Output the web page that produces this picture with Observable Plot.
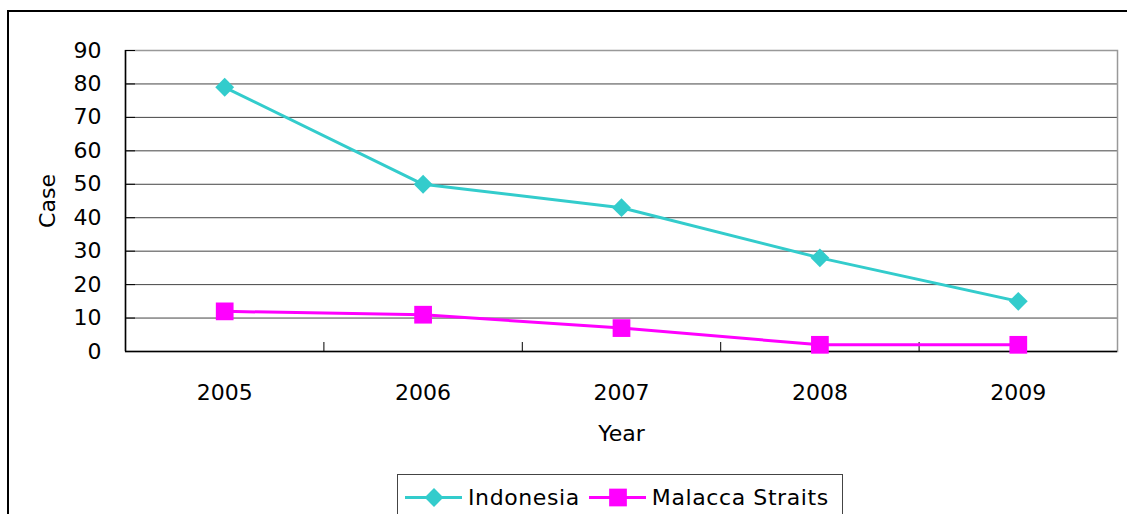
<!DOCTYPE html>
<html>
<head>
<meta charset="utf-8">
<script src="https://cdn.jsdelivr.net/npm/d3@7"></script>
<script src="https://cdn.jsdelivr.net/npm/@observablehq/plot@0.6"></script>
<style>
  html, body { margin: 0; padding: 0; background: #fff; overflow: hidden; width: 1127px; height: 514px; }
  #wrap { position: relative; width: 1127px; height: 514px; overflow: hidden; font-family: "DejaVu Sans", sans-serif; }
  #border { position: absolute; left: 7px; top: 10px; width: 1300px; height: 700px; border: 2px solid #000; box-sizing: border-box; }
  #chart { position: absolute; left: 0; top: 0; }
  #legend { position: absolute; left: 397px; top: 474px; width: 446px; height: 80px; border: 1px solid #444; box-sizing: border-box; background: #fff;
            display: flex; align-items: flex-start; padding-top: 9px; padding-left: 7px; font-size: 22px; color: #000; letter-spacing: 0.6px; }
  .item { display: flex; align-items: center; margin-right: 9px; }
  .item svg { margin-right: 6px; }
</style>
</head>
<body>
<div id="wrap">
  <div id="border"></div>
  <div id="chart"></div>
  <div id="legend"></div>
</div>
<script>
const years = [2005, 2006, 2007, 2008, 2009];
const indonesia = [79, 50, 43, 28, 15];
const malacca = [12, 11, 7, 2, 2];
const yTicks = [0, 10, 20, 30, 40, 50, 60, 70, 80, 90];
const seriesNames = ["Indonesia", "Malacca Straits"];
const seriesColors = ["#33CCCC", "#FF00FF"];
const seriesSymbols = ["diamond2", "square"];

const indData = years.map((y, i) => ({year: y, value: indonesia[i]}));
const malData = years.map((y, i) => ({year: y, value: malacca[i]}));
const boundaries = years.slice(0, -1).map(y => y + 0.5);
const font = "DejaVu Sans, sans-serif";

const chart = Plot.plot({
  width: 1127,
  height: 470,
  marginLeft: 125,
  marginRight: 10,
  marginTop: 50,
  marginBottom: 119,
  style: {fontFamily: font, fontSize: "22px", color: "#000", background: "transparent"},
  x: {domain: [years[0] - 0.5, years[years.length - 1] + 0.5], axis: null},
  y: {domain: [0, 90], axis: null},
  marks: [
    Plot.gridY(yTicks.slice(1), {stroke: "#444", strokeOpacity: 1, strokeWidth: 1}),
    Plot.frame({stroke: "#999", strokeWidth: 1.5}),
    Plot.axisY(yTicks, {tickSize: 0, tickPadding: 24, fontSize: 22, fill: "#000", label: null}),
    Plot.axisY(yTicks, {tickSize: -10, tickFormat: () => "", stroke: "#000", label: null}),
    Plot.axisX(boundaries, {tickSize: -9, tickFormat: () => "", stroke: "#000", label: null}),
    Plot.axisX(years, {tickSize: 0, tickPadding: 33, tickFormat: d => String(d), fontSize: 22, fill: "#000", label: null}),
    Plot.ruleX([years[0] - 0.5], {stroke: "#000", strokeWidth: 1.5}),
    Plot.ruleY([0], {stroke: "#000", strokeWidth: 1.5}),
    Plot.text(["Case"], {frameAnchor: "left", dx: -78, rotate: -90, textAnchor: "middle", lineAnchor: "middle", fontSize: 22, fill: "#000"}),
    Plot.text(["Year"], {frameAnchor: "bottom", dy: 82, textAnchor: "middle", lineAnchor: "middle", fontSize: 22, fill: "#000"}),
    Plot.line(indData, {x: "year", y: "value", stroke: seriesColors[0], strokeWidth: 3}),
    Plot.line(malData, {x: "year", y: "value", stroke: seriesColors[1], strokeWidth: 3}),
    Plot.dot(indData, {x: "year", y: "value", symbol: seriesSymbols[0], fill: seriesColors[0], r: 8.5}),
    Plot.dot(malData, {x: "year", y: "value", symbol: seriesSymbols[1], fill: seriesColors[1], r: 10})
  ]
});
document.getElementById("chart").appendChild(chart);

const legend = document.getElementById("legend");
seriesNames.forEach((name, i) => {
  const item = document.createElement("div");
  item.className = "item";
  const sw = Plot.plot({
    width: 57, height: 26, margin: 0,
    x: {domain: [0, 1], axis: null}, y: {domain: [0, 1], axis: null},
    style: {background: "transparent"},
    marks: [
      Plot.line([[0, 0.5], [1, 0.5]], {stroke: seriesColors[i], strokeWidth: 3}),
      Plot.dot([[0.5, 0.5]], {symbol: seriesSymbols[i], fill: seriesColors[i], r: i === 0 ? 8.5 : 10})
    ]
  });
  item.appendChild(sw);
  const t = document.createElement("span");
  t.textContent = name;
  item.appendChild(t);
  legend.appendChild(item);
});
</script>
</body>
</html>
